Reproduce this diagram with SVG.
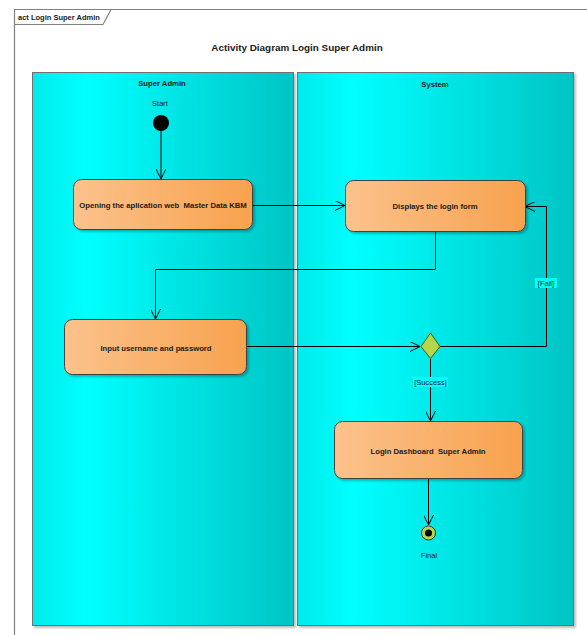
<svg xmlns="http://www.w3.org/2000/svg" width="587" height="635" viewBox="0 0 587 635">
  <style>
    text { font-family: "Liberation Sans", Arial, sans-serif; fill: #1a1a1a; white-space: pre; }
    .lbl { font-size: 7.7px; font-weight: bold; text-anchor: middle; }
    .small { font-size: 7.5px; text-anchor: middle; }
    .title { font-size: 9.9px; font-weight: bold; text-anchor: middle; }
    .lane { fill: url(#laneFill); stroke: #707070; stroke-width: 1; }
    .act { fill: url(#actFill); stroke: #404040; stroke-width: 1; }
    .conn { fill: none; stroke: #000; stroke-width: 1; marker-end: url(#arr); }
    .guard { fill: #00ffff; }
  </style>
  <defs>
    <linearGradient id="laneFill" x1="0" y1="0" x2="1" y2="0">
      <stop offset="0" stop-color="#00eaea"/>
      <stop offset="0.2" stop-color="#00ffff"/>
      <stop offset="1" stop-color="#00c4c4"/>
    </linearGradient>
    <linearGradient id="actFill" x1="0" y1="0" x2="1" y2="0">
      <stop offset="0" stop-color="#fcc28c"/>
      <stop offset="1" stop-color="#f7a24e"/>
    </linearGradient>
    <marker id="arr" viewBox="0 0 10 10" refX="10" refY="5" markerWidth="10" markerHeight="10" markerUnits="userSpaceOnUse" orient="auto">
      <path d="M0,0 L10,5 L0,10" fill="none" stroke="#000" stroke-width="1"/>
    </marker>
    <filter id="sh" x="-5%" y="-5%" width="115%" height="115%">
      <feDropShadow dx="2" dy="2" stdDeviation="1" flood-color="#000" flood-opacity="0.25"/>
    </filter>
  </defs>

  <rect width="587" height="635" fill="#fff"/>

  <!-- diagram frame with name tab -->
  <g id="frame" fill="none" stroke="#808080" stroke-width="1.2">
    <path d="M14.5,635 V9.5 H587"/>
    <path d="M14.5,24.5 H103 L111,9.5"/>
  </g>
  <text x="18" y="20" style="font-size:7.5px;font-weight:bold">act Login Super Admin</text>
  <text class="title" x="297" y="51">Activity Diagram Login Super Admin</text>

  <!-- swimlanes -->
  <g id="lane-superadmin">
    <rect class="lane" x="32.5" y="72.5" width="261" height="553" filter="url(#sh)"/>
    <text class="lbl" x="162" y="86">Super Admin</text>
  </g>
  <g id="lane-system">
    <rect class="lane" x="297.5" y="72.5" width="276" height="553" filter="url(#sh)"/>
    <text class="lbl" x="435" y="87">System</text>
  </g>

  <!-- connectors -->
  <g id="connectors">
    <path class="conn" d="M161,131 V179"/>
    <path class="conn" d="M252,205.5 H345"/>
    <path class="conn" d="M435.5,232 V269.5 H155.5 V319"/>
    <path class="conn" d="M247,346.5 H420"/>
    <path class="conn" d="M440,346.5 H546.5 V206.5 H525"/>
    <path class="conn" d="M430.5,359 V421"/>
    <path class="conn" d="M428.5,478 V525"/>
    <rect class="guard" x="535" y="278" width="22" height="10"/>
    <text class="small" x="546" y="286">[Fail]</text>
    <rect class="guard" x="413" y="377" width="35" height="10"/>
    <text class="small" x="430.5" y="385">[Success]</text>
  </g>

  <!-- nodes -->
  <g id="start">
    <circle cx="161" cy="123" r="8" fill="#000"/>
    <text class="small" x="160" y="106">Start</text>
  </g>
  <g id="open-app">
    <rect class="act" x="73.5" y="179.5" width="179" height="50" rx="8" filter="url(#sh)"/>
    <text class="lbl" x="163" y="208">Opening the aplication web  Master Data KBM</text>
  </g>
  <g id="login-form">
    <rect class="act" x="345.5" y="180.5" width="180" height="51" rx="8" filter="url(#sh)"/>
    <text class="lbl" x="435" y="209">Displays the login form</text>
  </g>
  <g id="input-credentials">
    <rect class="act" x="64.5" y="319.5" width="182" height="55" rx="8" filter="url(#sh)"/>
    <text class="lbl" x="156" y="351">Input username and password</text>
  </g>
  <g id="decision">
    <path d="M430.5,333 L440,346.5 L430.5,358.5 L421,346.5 Z" fill="#b4d64a" stroke="#3d5a10" stroke-width="1"/>
  </g>
  <g id="dashboard">
    <rect class="act" x="334.5" y="421.5" width="188" height="57" rx="8" filter="url(#sh)"/>
    <text class="lbl" x="428" y="454">Login Dashboard  Super Admin</text>
  </g>
  <g id="final">
    <circle cx="428.5" cy="533" r="7" fill="#b4d64a" stroke="#333" stroke-width="1"/>
    <circle cx="428.5" cy="533" r="3.5" fill="#000"/>
    <text class="small" x="429" y="558">Final</text>
  </g>
</svg>
